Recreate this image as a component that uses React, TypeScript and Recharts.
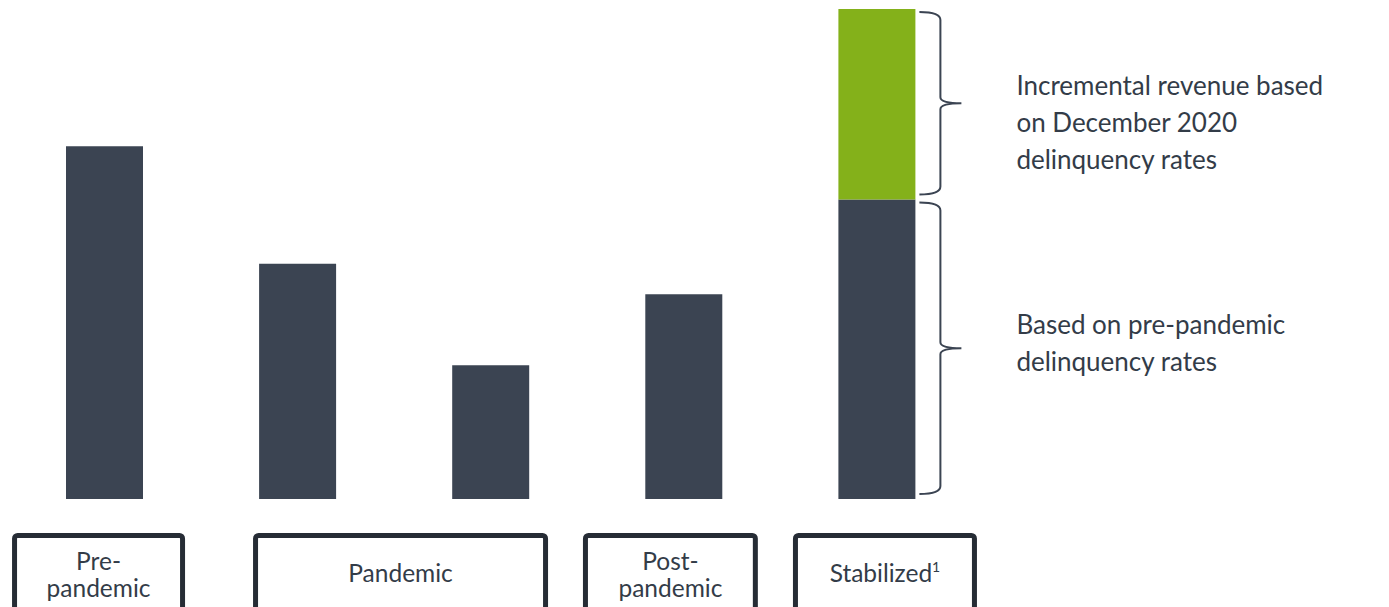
import { Bar, BarChart, LabelList, XAxis, YAxis } from "recharts";

// bar values (scale 0-100)
const categories = ["Pre-pandemic", "Pandemic (early)", "Pandemic (late)", "Post-pandemic", "Stabilized"];
const baseRevenue = [72, 48, 27.3, 41.8, 61.1];
const incrementalRevenue = [0, 0, 0, 0, 38.9];

// bottom boxes: which categories each one covers
const groupLabels = [["Pre-", "pandemic"], ["Pandemic"], ["Post-", "pandemic"], ["Stabilized"]];
const groupFirst = [0, 1, 3, 4];
const groupLast = [0, 2, 3, 4];
const groupSup = ["", "", "", "1"];

const upperNote = ["Incremental revenue based", "on December 2020", "delinquency rates"];
const lowerNote = ["Based on pre-pandemic", "delinquency rates"];

const W = 1389;
const H = 607;
const MARGIN = { top: 9, right: 415.5, left: 8, bottom: 0 };
const BAND = (W - MARGIN.left - MARGIN.right) / categories.length;
// box edges relative to first / last bar centre
const boxLeft = [-92.5, -44.6, -100.9, -84];
const boxRight = [80.5, 57.3, 74, 100];

const DARK = "#3b4452";
const GREEN = "#84b11a";
const TEXT = "#333c48";
const FONT = "Lato, 'Open Sans', sans-serif";

const data = categories.map((name, i) => ({
  name,
  base: baseRevenue[i],
  incremental: incrementalRevenue[i],
}));

const GroupTick = (props: any) => {
  const { x, index } = props;
  const g = groupFirst.indexOf(index);
  if (g < 0) return null;
  const left = x + boxLeft[g];
  const right = x + (groupLast[g] - groupFirst[g]) * BAND + boxRight[g];
  const cx = (left + right) / 2;
  const lines = groupLabels[g];
  const baselines = lines.length === 2 ? [570, 597] : [582];
  return (
    <g>
      <rect
        x={left + 2.5}
        y={535.5}
        width={right - left - 5}
        height={120}
        rx={3}
        fill="none"
        stroke="#262c35"
        strokeWidth={5}
      />
      {lines.map((t, i) => (
        <text key={i} x={cx} y={baselines[i]} textAnchor="middle" fontSize={24.5} fontFamily={FONT} fill={TEXT}>
          {t}
          {groupSup[g] && i === lines.length - 1 ? (
            <tspan fontSize={14} dy={-10}>
              {groupSup[g]}
            </tspan>
          ) : null}
        </text>
      ))}
    </g>
  );
};

const bracePath = (x0: number, top: number, bottom: number) => {
  const xv = x0 + 25;
  const tip = x0 + 46;
  const mid = (top + bottom) / 2;
  return `M${x0 + 4},${top} Q${xv},${top} ${xv},${top + 8} L${xv},${mid - 6} Q${xv},${mid} ${tip},${mid} Q${xv},${mid} ${xv},${mid + 6} L${xv},${bottom - 8} Q${xv},${bottom} ${x0 + 4},${bottom}`;
};

// brace + note beside the last bar's segment
const makeNote = (lines: string[], firstOffset: number, onlyLast: boolean) => (props: any) => {
  const vb = props.viewBox ?? props;
  const { x, y, width, height } = vb;
  if (!height || !props.value) return null;
  if (onlyLast && props.index !== categories.length - 1) return null;
  const top = y + 3;
  const bottom = y + height - 5;
  const mid = (top + bottom) / 2;
  const right = x + width;
  return (
    <g>
      <path d={bracePath(right, top, bottom)} fill="none" stroke={DARK} strokeWidth={2} />
      {lines.map((t, i) => (
        <text key={i} x={right + 101} y={mid + firstOffset + i * 37} fontSize={26} fontFamily={FONT} fill={TEXT}>
          {t}
        </text>
      ))}
    </g>
  );
};

export default function App() {
  return (
    <div style={{ position: "absolute", left: 0, top: 0, width: W, height: H, background: "#fff" }}>
      <BarChart width={W} height={H} data={data} margin={MARGIN} barSize={77}>
        <XAxis dataKey="name" axisLine={false} tickLine={false} interval={0} height={108} tick={<GroupTick />} />
        <YAxis hide domain={[0, 100]} />
        <Bar dataKey="base" stackId="a" fill={DARK} isAnimationActive={false}>
          <LabelList dataKey="base" content={makeNote(lowerNote, -14, true)} />
        </Bar>
        <Bar dataKey="incremental" stackId="a" fill={GREEN} isAnimationActive={false}>
          <LabelList dataKey="incremental" content={makeNote(upperNote, -8, false)} />
        </Bar>
      </BarChart>
    </div>
  );
}
